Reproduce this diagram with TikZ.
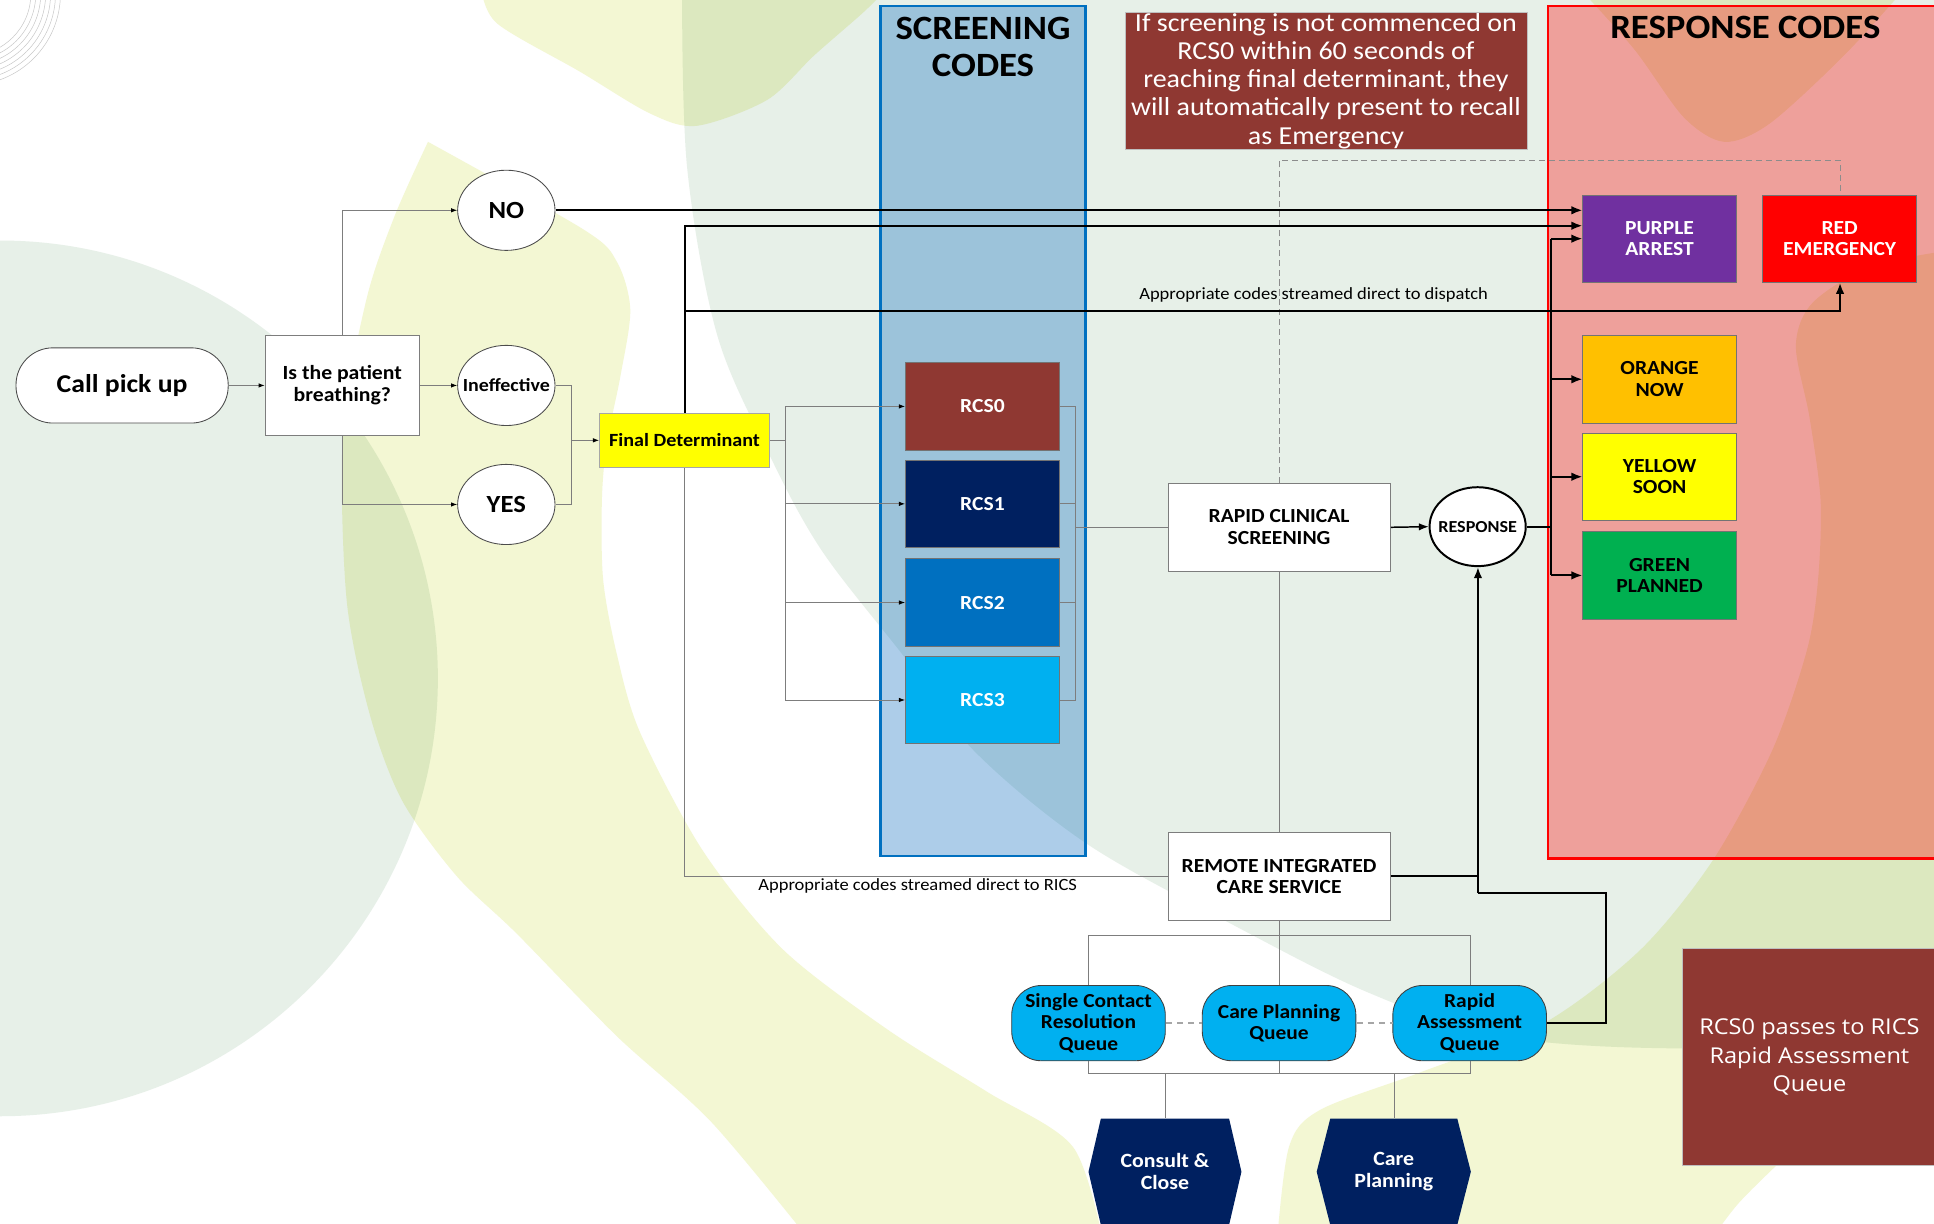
\documentclass[tikz,border=0pt]{standalone}
\usepackage{fontspec}
\setmainfont{Carlito}
\newfontfamily\segoe{Open Sans}
\usetikzlibrary{arrows.meta,calc,shapes.geometric}
\definecolor{bggreen}{RGB}{231,240,232}
\definecolor{bgyellow}{RGB}{243,247,211}
\definecolor{colblue}{RGB}{0,102,189}
\definecolor{colblueline}{RGB}{0,112,192}
\definecolor{notered}{RGB}{143,56,50}
\definecolor{navy}{RGB}{0,32,96}
\definecolor{midblue}{RGB}{0,112,192}
\definecolor{skyblue}{RGB}{0,176,240}
\definecolor{purplec}{RGB}{112,48,160}
\definecolor{orangec}{RGB}{255,192,0}
\definecolor{yellowc}{RGB}{255,255,0}
\definecolor{greenc}{RGB}{0,176,80}
\definecolor{redc}{RGB}{255,0,0}
\definecolor{linegray}{RGB}{125,125,125}
\begin{document}
\begin{tikzpicture}[x=0.925926pt, y=-1pt, xscale=1.08,
  every node/.style={transform shape},
  lbl/.style={font=\fontsize{16.2}{17.5}\selectfont\bfseries, align=center, inner sep=0pt},
  wbox/.style={lbl, draw=linegray, line width=0.8pt, fill=white, minimum width=166.7pt, minimum height=71pt},
  codebox/.style={lbl, draw=black!55, line width=0.6pt, minimum width=115.7pt, minimum height=71pt},
  oval/.style={lbl, ellipse, draw=black!70, line width=0.7pt, fill=white, minimum width=73.1pt, minimum height=65pt},
  queue/.style={lbl, font=\fontsize{16.1}{17.5}\selectfont\bfseries, draw=black!75, line width=0.7pt, fill=skyblue, rounded corners=24pt, minimum width=115.3pt, minimum height=61pt},
  gline/.style={draw=linegray, line width=0.7pt},
  garrow/.style={gline, -{Latex[length=5pt,width=3.6pt,color=black]}},
  bline/.style={draw=black, line width=1.6pt},
  barrow/.style={bline, -{Latex[length=9pt,width=7pt]}},
  marrow/.style={draw=black, line width=1.2pt, -{Latex[length=8pt,width=6pt]}},
  dline/.style={draw=black!45, line width=0.7pt, dash pattern=on 5pt off 3pt},
  qdash/.style={draw=black!35, line width=1.4pt, dash pattern=on 5pt off 4pt}
]
\useasboundingbox (0,0) rectangle (1568,992);
\clip (0,0) rectangle (1568,992);
\fill[white] (0,0) rectangle (1568,992);

% ---------- background ----------
\begin{scope}[blend mode=multiply]
\fill[bggreen] (0,550) ellipse [x radius=355, y radius=355];
\fill[bggreen] plot[smooth, tension=0.55] coordinates {(553,-10) (557,135) (581,270) (622,365) (666,446) (735,535) (789,608) (881,684) (1000,750) (1110,805) (1216,840) (1364,850) (1600,843)} -- (1600,-10) -- cycle;
\fill[bgyellow] plot[smooth, tension=0.5] coordinates {(347,115) (320,175) (297,243) (278,351) (281,486) (300,580) (326,649) (370,710) (419,757) (500,840) (577,910) (660,1010)} -- (895,1010)
  -- plot[smooth, tension=0.5] coordinates {(895,1010) (870,930) (800,885) (720,835) (635,770) (570,690) (519,594) (500,530) (489,470) (488,405) (492,359) (503,305) (511,251) (500,212) (473,186) (347,115)} -- cycle;
\fill[bgyellow] plot[smooth, tension=0.5] coordinates {(1035,1010) (1045,930) (1070,900) (1150,870) (1251,830) (1330,770) (1389,697) (1437,608) (1465,527) (1474,470) (1476,405) (1467,338) (1456,280) (1470,245) (1520,215) (1600,200)} -- (1600,830)
  -- plot[smooth, tension=0.5] coordinates {(1600,830) (1520,870) (1459,927) (1410,975) (1384,1010)} -- cycle;
\fill[bgyellow] plot[smooth, tension=0.5] coordinates {(390,-10) (403,19) (470,58) (527,92) (565,102) (622,81) (660,45) (700,10) (720,-10)} -- cycle;
\fill[bgyellow] plot[smooth, tension=0.5] coordinates {(1280,-10) (1325,40) (1365,95) (1398,115) (1435,100) (1495,45) (1545,-10)} -- cycle;
\end{scope}
\fill[colblue, opacity=0.32] (714,5) rectangle (880,694);
\fill[redc, opacity=0.33] (1255,5) rectangle (1575,696);
\foreach \r in {50,54,...,74} \draw[black!22, line width=0.4pt] (-25,-5) circle[radius=\r];
\draw[colblueline, line width=2pt] (714,5) rectangle (880,694);
\draw[redc, line width=2pt] (1255,5) rectangle (1575,696);

\node[font=\fontsize{27.6}{30}\selectfont\bfseries, align=center, inner sep=0pt] (scrtitle) at (797,38) {SCREENING\\CODES};
\node[font=\fontsize{27.6}{30}\selectfont\bfseries, inner sep=0pt] (restitle) at (1415,22) {RESPONSE CODES};

% ---------- nodes ----------
\node[lbl, draw=black!70, line width=0.7pt, fill=white, rounded corners=30pt, minimum width=159.3pt, minimum height=61pt, font=\fontsize{20.8}{22}\selectfont\bfseries] (call) at (99,312.5) {Call pick up};
\node[lbl, draw=linegray, line width=0.8pt, fill=white, minimum width=115.7pt, minimum height=81pt, font=\fontsize{16.3}{17.6}\selectfont\bfseries] (breath) at (277.5,312.5) {Is the patient\\breathing?};
\node[oval, font=\fontsize{20}{22}\selectfont\bfseries] (no) at (410.5,170.5) {NO};
\node[oval, inner xsep=-12pt, font=\fontsize{15}{17}\selectfont\bfseries] (ineff) at (410.5,312.5) {Ineffective};
\node[oval, font=\fontsize{20}{22}\selectfont\bfseries] (yes) at (410.5,409) {YES};
\node[lbl, fill=yellowc, draw=black!35, line width=0.6pt, minimum width=127.8pt, minimum height=44pt, font=\fontsize{15.1}{17}\selectfont\bfseries] (fd) at (555,357) {Final Determinant};

\node[codebox, fill=notered, text=white] (rcs0) at (796.5,329.5) {RCS0};
\node[codebox, fill=navy, text=white] (rcs1) at (796.5,408.5) {RCS1};
\node[codebox, fill=midblue, text=white] (rcs2) at (796.5,488.5) {RCS2};
\node[codebox, fill=skyblue, text=white] (rcs3) at (796.5,567.5) {RCS3};

\node[wbox] (rcsbox) at (1037,427.5) {RAPID CLINICAL\\SCREENING};
\node[wbox] (rics) at (1037,710.5) {REMOTE INTEGRATED\\CARE SERVICE};
\node[lbl, ellipse, inner xsep=-9pt, draw=black, line width=1.6pt, fill=white, minimum width=72.2pt, minimum height=64pt, font=\fontsize{13.6}{15}\selectfont\bfseries] (response) at (1198,427) {RESPONSE};

\node[codebox, fill=purplec, text=white] (purple) at (1345.5,193.5) {PURPLE\\ARREST};
\node[codebox, fill=redc, text=white] (red) at (1491.5,193.5) {RED\\EMERGENCY};
\node[codebox, fill=orangec] (orange) at (1345.5,307.5) {ORANGE\\NOW};
\node[codebox, fill=yellowc] (yellow) at (1345.5,386.5) {YELLOW\\SOON};
\node[codebox, fill=greenc] (green) at (1345.5,466.5) {GREEN\\PLANNED};

\node[fill=notered, draw=black!25, line width=0.5pt, minimum width=301.9pt, minimum height=111pt, text=white, font=\fontsize{21}{22.9}\selectfont, align=center, inner sep=0pt] (note1) at (1075,65.5) {If screening is not commenced on\\RCS0 within 60 seconds of\\reaching final determinant, they\\will automatically present to recall\\as Emergency};
\node[fill=notered, draw=black!25, line width=0.5pt, minimum width=190.7pt, minimum height=176pt, text=white, font=\segoe\fontsize{17.7}{23}\selectfont, align=center, inner sep=0pt] (note2) at (1467,857) {RCS0 passes to RICS\\Rapid Assessment\\Queue};

\node[queue] (q1) at (882.5,829.5) {Single Contact\\Resolution\\Queue};
\node[queue] (q2) at (1037,829.5) {Care Planning\\Queue};
\node[queue] (q3) at (1191.5,829.5) {Rapid\\Assessment\\Queue};

\fill[navy] (892.5,907) -- (996.5,907) -- (1006.5,950) -- (996.5,993) -- (892.5,993) -- (882.5,950) -- cycle;
\fill[navy] (1078.5,907) -- (1181.5,907) -- (1192.5,950) -- (1181.5,993) -- (1078.5,993) -- (1067.5,950) -- cycle;
\node[lbl, font=\fontsize{16.4}{17.5}\selectfont\bfseries, text=white, minimum width=114.8pt, minimum height=86pt] (hex1) at (944.5,950) {Consult \&\\Close};
\node[lbl, font=\fontsize{16.4}{17.5}\selectfont\bfseries, text=white, minimum width=114.8pt, minimum height=86pt] (hex2) at (1130,950) {Care\\Planning};

\node[font=\fontsize{13.9}{15}\selectfont, inner sep=0pt] (lbldisp) at (1065,239) {Appropriate codes streamed direct to dispatch};
\node[font=\fontsize{13.9}{15}\selectfont, inner sep=0pt] (lblrics) at (744,718) {Appropriate codes streamed direct to RICS};

% ---------- helper coordinates ----------
\coordinate (join) at (463,357);
\coordinate (fdbus) at (637,357);
\coordinate (rbus) at (872,427.5);
\coordinate (bus) at (1257,427);
\coordinate (y130) at (0,130);
\coordinate (y252) at (0,252);
\coordinate (y724) at (0,724);
\coordinate (y758) at (0,758);
\coordinate (y870) at (0,870);
\coordinate (qr) at (1302,724);

% ---------- thin connectors ----------
\draw[garrow] (call) -- (breath);
\draw[garrow] (breath.north) |- (no.west);
\draw[garrow] (breath) -- (ineff);
\draw[garrow] (breath.south) |- (yes.west);
\draw[gline] (ineff.east) -| (join);
\draw[gline] (yes.east) -| (join);
\draw[garrow] (join) -- (fd.west);
\draw[gline] (fd.east) -- (fdbus);
\draw[garrow] (fdbus) |- (rcs0.west);
\draw[garrow] (fdbus) |- (rcs1.west);
\draw[garrow] (fdbus) |- (rcs2.west);
\draw[garrow] (fdbus) |- (rcs3.west);
\draw[gline] (rcs0.east) -| (rbus);
\draw[gline] (rcs1.east) -| (rbus);
\draw[gline] (rcs2.east) -| (rbus);
\draw[gline] (rcs3.east) -| (rbus);
\draw[gline] (rbus) -- (rcsbox.west);
\draw[gline] (rcsbox.south) -- (rics.north);
\draw[gline] (rics.west) -| (fd.south);
\draw[gline] (rics.south) -- (q2.north);
\draw[gline] (q1.north) |- (q3.north |- y758) -- (q3.north);
\draw[gline] (q1.south) |- (q3.south |- y870) -- (q3.south);
\draw[gline] (q2.south) -- (q2.south |- y870);
\draw[gline] (hex1.north |- y870) -- (hex1.north);
\draw[gline] (hex2.north |- y870) -- (hex2.north);
\draw[qdash] (q1.east) -- (q2.west);
\draw[qdash] (q2.east) -- (q3.west);
\draw[dline] (rcsbox.north) -- (rcsbox.north |- y130) -| (red.north);

% ---------- thick connectors ----------
\draw[barrow] (no.east) -- ($(purple.west)+(0,-23)$);
\draw[barrow] (fd.north) |- ($(purple.west)+(0,-10.5)$);
\draw[barrow] (fd.north |- y252) -- (red.south |- y252) -- (red.south);
\draw[marrow] (rcsbox.east) -- (response.west);
\draw[bline] (response.east) -- (bus);
\draw[bline] (bus |- purple.west) -- (bus |- green.west);
\draw[barrow] (bus |- purple.west) -- (purple.west);
\draw[barrow] (bus |- orange.west) -- (orange.west);
\draw[barrow] (bus |- yellow.west) -- (yellow.west);
\draw[barrow] (bus |- green.west) -- (green.west);
\draw[bline] (rics.east) -- (response.south |- rics.east);
\draw[bline] (q3.east) -| (qr) -- (response.south |- y724);
\draw[barrow] (response.south |- y724) -- (response.south);
\end{tikzpicture}
\end{document}
